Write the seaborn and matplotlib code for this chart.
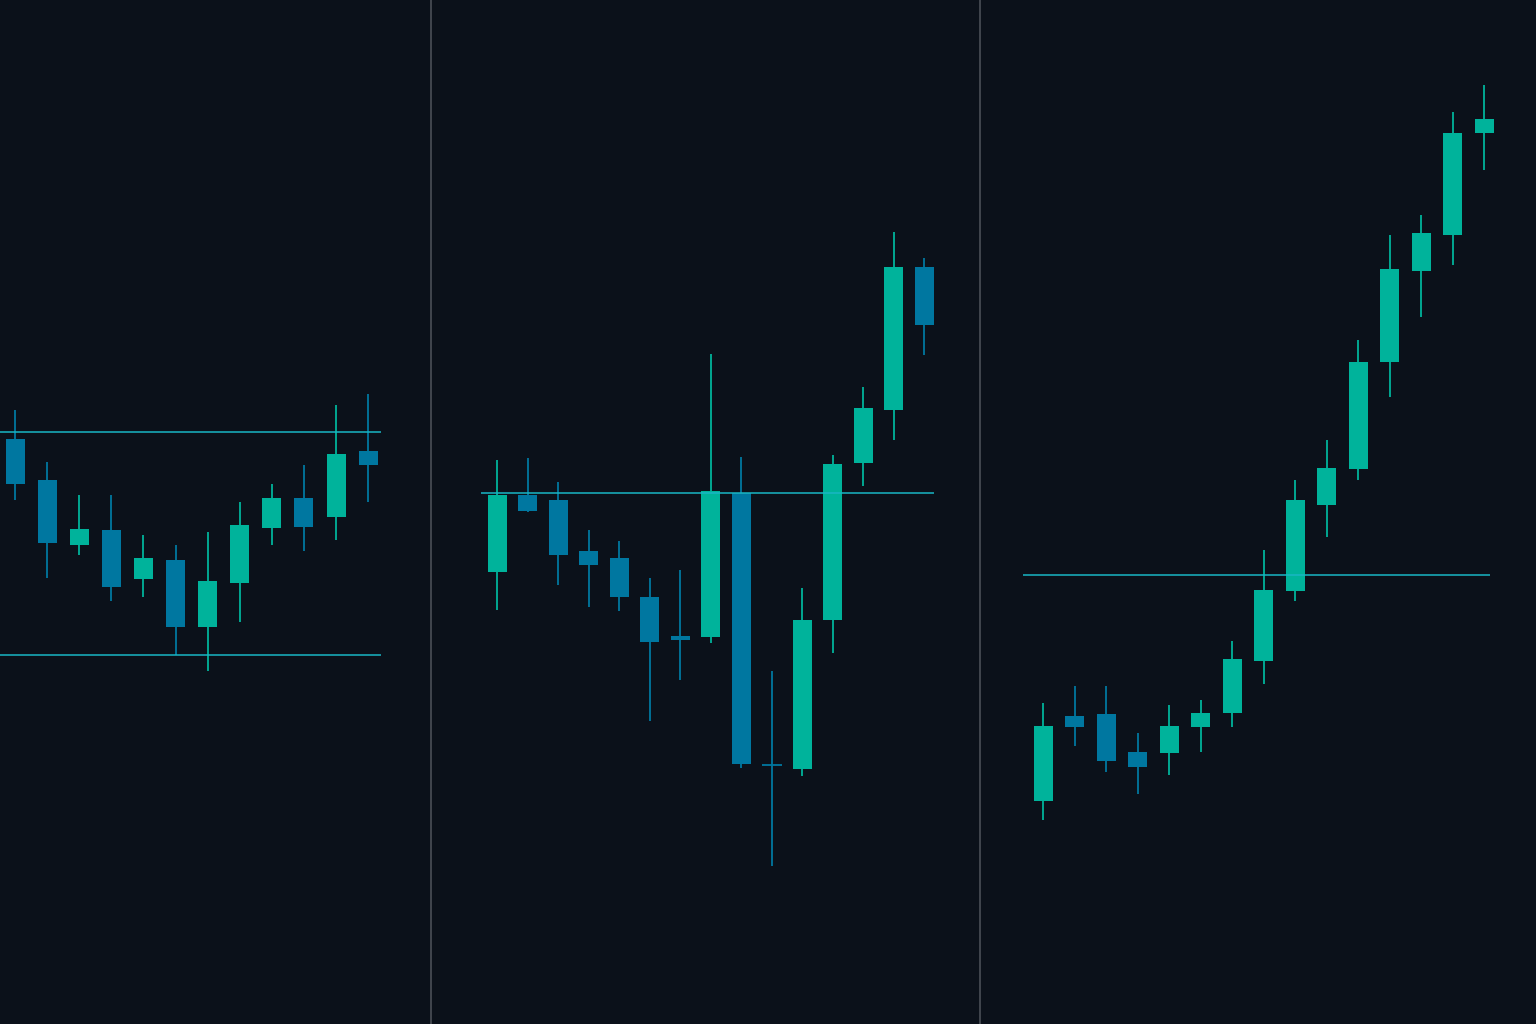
import matplotlib
matplotlib.use("Agg")
import matplotlib.pyplot as plt
import seaborn as sns

# candle values (screen units, larger = lower on screen)
p1_high = [410, 462, 495, 495, 535, 545, 532, 502, 484, 465, 405, 394]
p1_open = [439, 480, 545, 530, 579, 560, 627, 583, 528, 498, 517, 451]
p1_close = [484, 543, 529, 587, 558, 627, 581, 525, 498, 527, 454, 465]
p1_low = [500, 578, 555, 601, 597, 655, 671, 622, 545, 551, 540, 502]
p1_levels = [432, 655]

p2_high = [460, 458, 482, 530, 541, 578, 570, 354, 457, 671, 588, 455, 387, 232, 258]
p2_open = [572, 495, 500, 551, 558, 597, 636, 637, 493, 764, 769, 620, 463, 410, 267]
p2_close = [495, 511, 555, 565, 597, 642, 640, 491, 764, 766, 620, 464, 408, 267, 325]
p2_low = [610, 512, 585, 607, 611, 721, 680, 643, 768, 866, 776, 653, 486, 440, 355]
p2_levels = [493]

p3_high = [703, 686, 686, 733, 705, 700, 641, 550, 480, 440, 340, 235, 215, 112, 85]
p3_open = [801, 716, 714, 752, 753, 727, 713, 661, 591, 505, 469, 362, 271, 235, 133]
p3_close = [726, 727, 761, 767, 726, 713, 659, 590, 500, 468, 362, 269, 233, 133, 119]
p3_low = [820, 746, 772, 794, 775, 752, 727, 684, 601, 537, 480, 397, 317, 265, 170]
p3_levels = [575]

panels = [
    (p1_high, p1_open, p1_close, p1_low, p1_levels, 15, 32.1, (0, 381)),
    (p2_high, p2_open, p2_close, p2_low, p2_levels, 497, 30.5, (481, 934)),
    (p3_high, p3_open, p3_close, p3_low, p3_levels, 1043, 31.5, (1023, 1490)),
]

UP = "#00b39b"
DOWN = "#0077a0"
BG = "#0b111a"

sns.set_style("dark", {"axes.facecolor": BG, "figure.facecolor": BG})

fig = plt.figure(figsize=(15.36, 10.24), dpi=100)
ax = fig.add_axes([0, 0, 1, 1])
ax.set_facecolor(BG)

for high, opn, cls, low, levels, x0, step, span in panels:
    xs = [x0 + i * step for i in range(len(high))]
    for x, h, o, c, l in zip(xs, high, opn, cls, low):
        col = UP if c < o else DOWN
        ax.vlines(x, h, l, color=col, linewidth=1.3)
        top, bot = min(o, c), max(o, c)
        if bot - top < 3:
            ax.hlines((o + c) / 2, x - 10, x + 10, color=col, linewidth=1.3)
        else:
            ax.bar(x, bot - top, bottom=top, width=19, color=col, linewidth=0)
    for lv in levels:
        ax.hlines(lv, span[0], span[1], color="#19b6c4", linewidth=1.1)

for dx in [431, 980]:
    ax.axvline(dx, color="#4a4f57", linewidth=1.2)

ax.set_xlim(0, 1536)
ax.set_ylim(1024, 0)
ax.axis("off")
fig.savefig("out.png", dpi=100, facecolor=BG)
